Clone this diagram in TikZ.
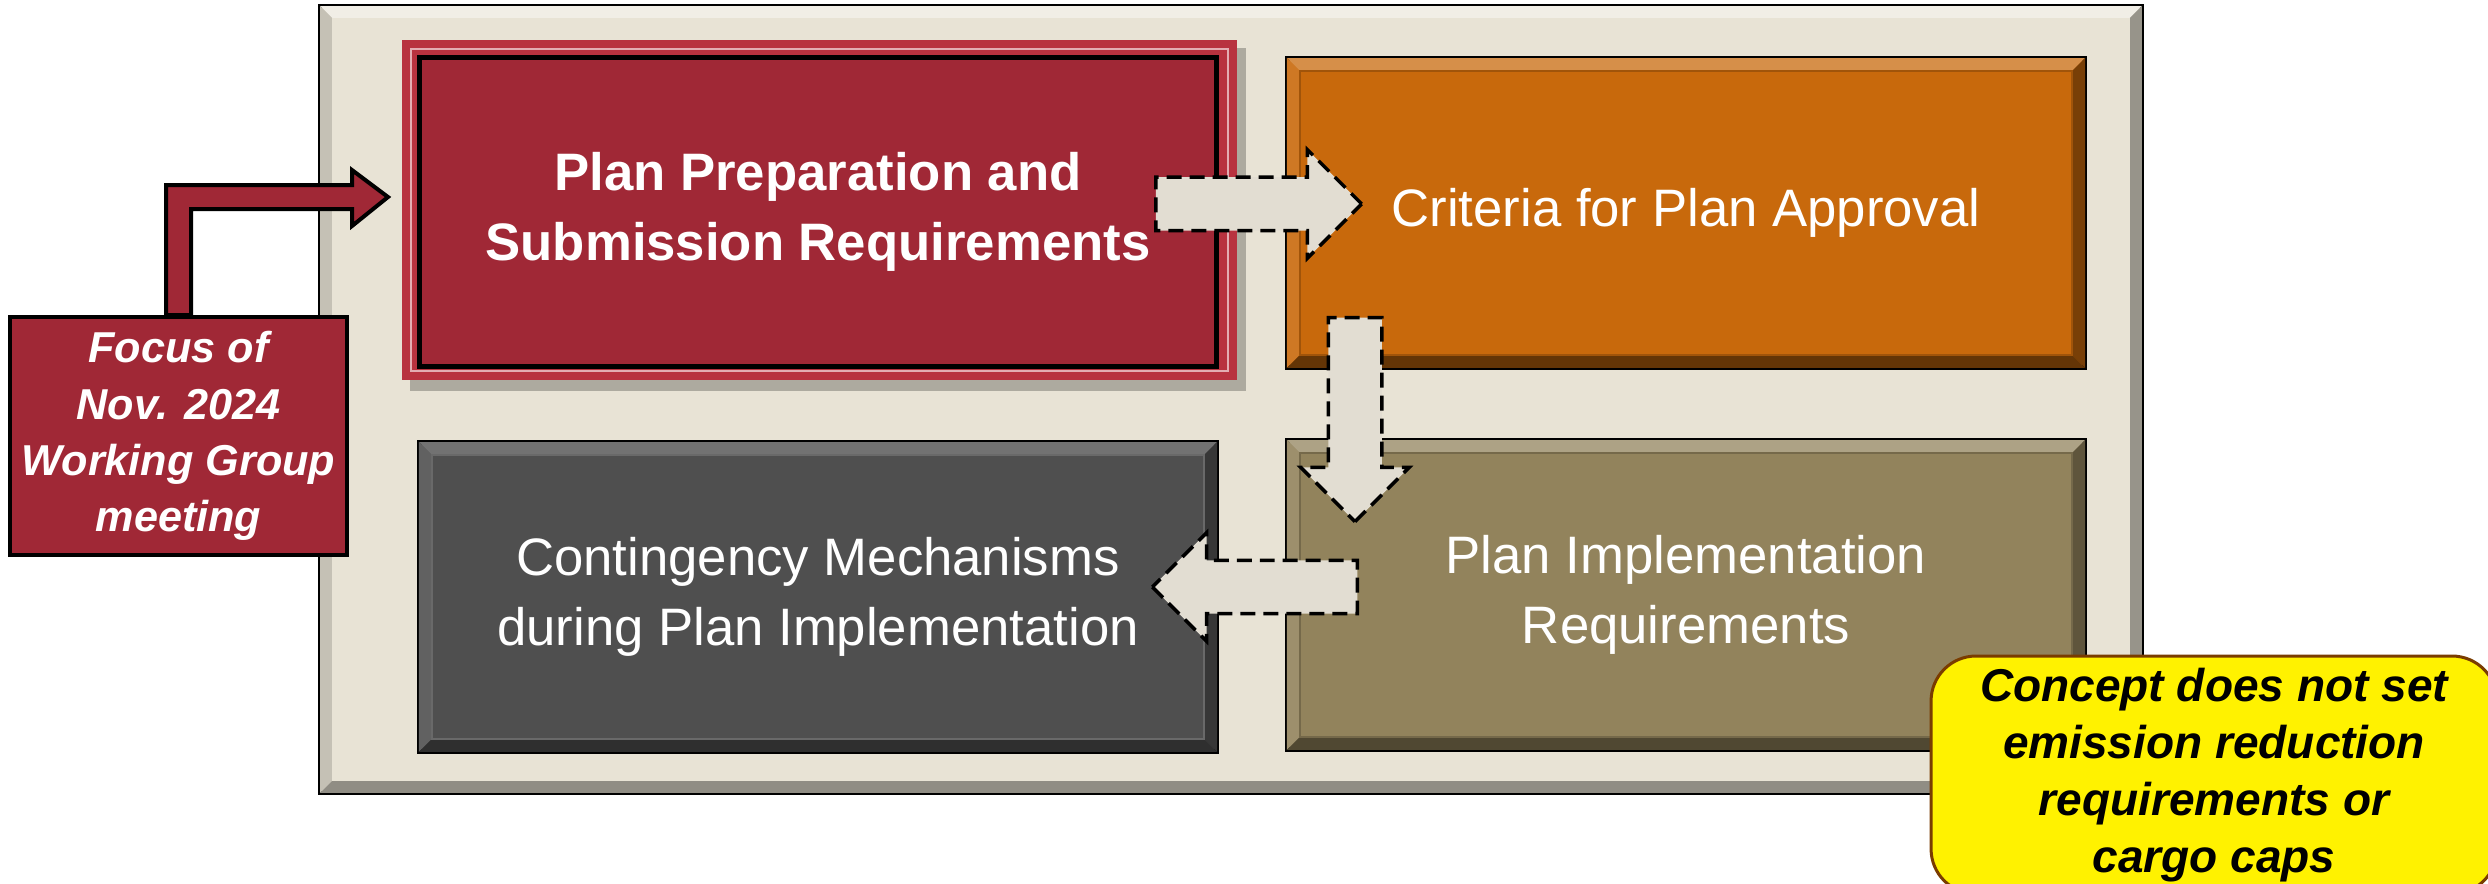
\documentclass[tikz,border=0pt]{standalone}
\usepackage{fontspec}
\setmainfont{Liberation Sans}
\usetikzlibrary{calc}
\usetikzlibrary{shapes.arrows}
\definecolor{framefill}{HTML}{E8E3D5}
\definecolor{prepred}{HTML}{A02836}
\definecolor{glowred}{HTML}{B8323F}
\definecolor{critorange}{HTML}{C8690C}
\definecolor{contgray}{HTML}{4F4F4F}
\definecolor{implolive}{HTML}{92835C}
\definecolor{flowfill}{HTML}{E2DDD2}
\definecolor{notebrown}{HTML}{7A3C00}
\tikzset{
	framestyle/.style={rectangle,draw=black,line width=0.08cm,fill=framefill,minimum width=36.44cm,minimum height=15.74cm},
	stagestyle/.style={rectangle,draw=black,line width=0.1cm,text=white,align=center,minimum width=15.95cm,minimum height=6.18cm,font=\fontsize{30}{40}\selectfont},
	focusstyle/.style={rectangle,draw=black,line width=0.08cm,fill=prepred,text=white,align=center,minimum width=6.74cm,minimum height=4.76cm,font=\bfseries\itshape\fontsize{24.6}{32}\selectfont},
	notestyle/.style={rectangle,rounded corners=0.9cm,draw=notebrown,line width=0.06cm,fill=yellow,align=center,minimum width=11.32cm,minimum height=4.76cm,font=\bfseries\itshape\fontsize{26.2}{32.5}\selectfont},
	flowstyle/.style={single arrow,draw=black,dash pattern=on 0.3cm off 0.16cm,line width=0.07cm,fill=flowfill,inner xsep=0cm,inner ysep=0.5cm,single arrow head extend=0.55cm,anchor=tail},
	linkstyle/.style={draw=black,line width=0.08cm,fill=prepred}
}
\newcommand{\bevel}[7]{%
	\fill[#3] ([shift={(2,2)}]#1.north west) -- ([shift={(-2,2)}]#1.north east) -- ([shift={(-#2,#2)}]#1.north east) -- ([shift={(#2,#2)}]#1.north west) -- cycle;
	\fill[#4] ([shift={(2,2)}]#1.north west) -- ([shift={(2,-2)}]#1.south west) -- ([shift={(#2,-#2)}]#1.south west) -- ([shift={(#2,#2)}]#1.north west) -- cycle;
	\fill[#5] ([shift={(-2,2)}]#1.north east) -- ([shift={(-2,-2)}]#1.south east) -- ([shift={(-#2,-#2)}]#1.south east) -- ([shift={(-#2,#2)}]#1.north east) -- cycle;
	\fill[#6] ([shift={(2,-2)}]#1.south west) -- ([shift={(-2,-2)}]#1.south east) -- ([shift={(-#2,-#2)}]#1.south east) -- ([shift={(#2,-#2)}]#1.south west) -- cycle;
	\draw[#7,line width=0.03cm] ([shift={(#2,#2)}]#1.north west) rectangle ([shift={(-#2,-#2)}]#1.south east);
}

\begin{document}
\begin{tikzpicture}[x=0.02cm,y=-0.02cm]
		\useasboundingbox (0,0) rectangle (2488,884);
		\clip (0,0) rectangle (2488,884);
		\node[framestyle] (panel) at (1231,399.5) {};
		\bevel{panel}{15}{white!40!framefill}{framefill!85!black}{framefill!65!black}{framefill!62!black}{framefill}
		\fill[black,opacity=0.25] (410,48) rectangle (1246,391);
		\fill[glowred] (402,40) rectangle (1237,380);
		\draw[white!60!glowred,line width=0.03cm] (411,49) rectangle (1228,371);
		\node[stagestyle,fill=prepred,font=\bfseries\fontsize{30}{40}\selectfont] (prep) at (818,212) {Plan Preparation and\\Submission Requirements};
		\node[stagestyle,fill=critorange] (crit) at (1686,213) {Criteria for Plan Approval};
		\node[stagestyle,fill=contgray] (cont) at (818,597) {Contingency Mechanisms\\during Plan Implementation};
		\node[stagestyle,fill=implolive] (impl) at (1686,595) {Plan Implementation\\Requirements};
		\bevel{crit}{15}{critorange!75!white}{critorange!90!white}{critorange!60!black}{critorange!50!black}{critorange!80!black}
		\bevel{cont}{15}{contgray!80!white}{contgray!90!white}{contgray!70!black}{contgray!60!black}{contgray!85!white}
		\bevel{impl}{15}{implolive!75!white}{implolive!90!white}{implolive!65!black}{implolive!55!black}{implolive!80!black}
		\node[flowstyle,minimum height=4.12cm] (flowa) at (1154,204) {};
		\node[flowstyle,minimum height=4.08cm,rotate=-90] (flowb) at (1355,316) {};
		\node[flowstyle,minimum height=4.1cm,rotate=180] (flowc) at (1359,587) {};
		\node[focusstyle] (focus) at (178.5,436) {Focus of\\Nov. 2024\\Working Group\\meeting};
		\draw[linkstyle] ($(focus.north)+(-12.5,0)$) -- ++(0,-130) -- ++(186,0) -- ++(0,-15) -- ++(36,27) -- ++(-36,29) -- ++(0,-17) -- ++(-161,0) -- ++(0,106) -- cycle;
		\node[notestyle] (note) at (2214,775) {Concept does not set\\emission reduction\\requirements or\\cargo caps};
		\end{tikzpicture}
\end{document}
